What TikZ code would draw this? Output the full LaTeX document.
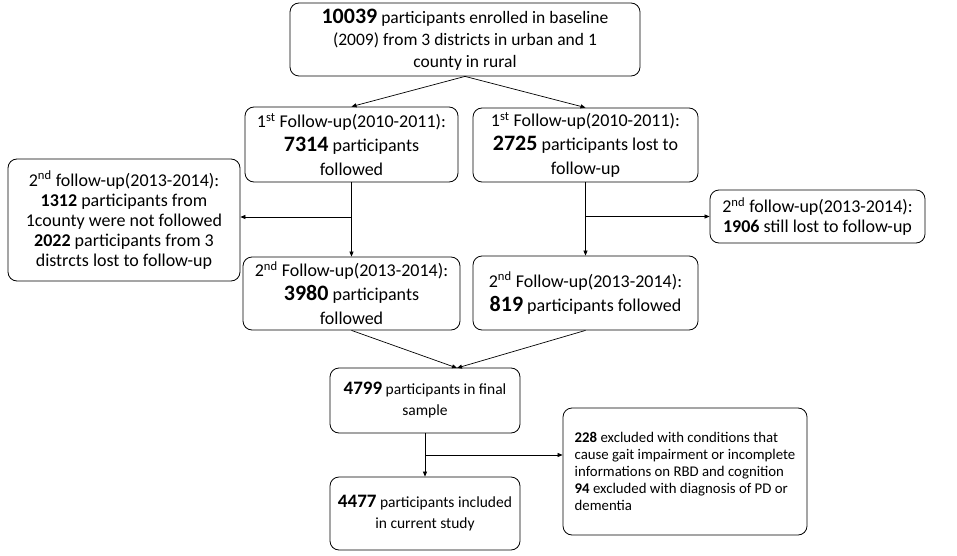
\documentclass[tikz,border=0pt]{standalone}
\usepackage{fontspec}
\setmainfont{Carlito}
\usetikzlibrary{arrows.meta}
\newcommand{\nb}[1]{{\fontsize{22}{22}\selectfont\bfseries #1}}
\newcommand{\nbs}[1]{{\fontsize{19}{19}\selectfont\bfseries #1}}
\begin{document}
\begin{tikzpicture}[x=1pt, y=-1pt,
  box/.style={draw, rounded corners=9pt, align=center, inner sep=0pt, line width=0.8pt, font=\fontsize{18}{24}\selectfont},
  arr/.style={-{Triangle[length=5pt,width=4pt]}, line width=0.7pt}]
  \useasboundingbox (0,0) rectangle (957,556);
  % boxes
  \node[box, minimum width=350, minimum height=73, font=\fontsize{17.5}{22}\selectfont] (base) at (465,39.5)
    {\nb{10039} participants enrolled in baseline\\(2009) from 3 districts in urban and 1\\county in rural};
  \node[box, minimum width=213, minimum height=75] (fuA) at (351.5,144.5)
    {1\textsuperscript{st} Follow-up(2010-2011):\\\nb{7314} participants\\followed};
  \node[box, minimum width=225, minimum height=74] (lostA) at (585.5,145)
    {1\textsuperscript{st} Follow-up(2010-2011):\\\nb{2725} participants lost to\\follow-up};
  \node[box, minimum width=232, minimum height=122, font=\fontsize{18}{20}\selectfont] (notfu) at (124,220)
    {2\textsuperscript{nd} follow-up(2013-2014):\\\textbf{1312} participants from\\1county were not followed\\\textbf{2022} participants from 3\\distrcts lost to follow-up};
  \node[box, minimum width=215, minimum height=53, font=\fontsize{18}{20}\selectfont] (lostB) at (817.5,216.5)
    {2\textsuperscript{nd} follow-up(2013-2014):\\\textbf{1906} still lost to follow-up};
  \node[box, minimum width=217, minimum height=73] (fuB) at (351.5,293.5)
    {2\textsuperscript{nd} Follow-up(2013-2014):\\\nb{3980} participants\\followed};
  \node[box, minimum width=225, minimum height=74] (fuC) at (585.5,293)
    {2\textsuperscript{nd} Follow-up(2013-2014):\\\nb{819} participants followed};
  \node[box, minimum width=190, minimum height=65, font=\fontsize{15.5}{21}\selectfont] (final) at (425,400.5)
    {\nbs{4799} participants in final\\sample};
  \node[box, minimum width=190, minimum height=73, font=\fontsize{15.5}{21}\selectfont] (incl) at (425,513.5)
    {\nbs{4477} participants included\\in current study};
  \node[box, minimum width=244, minimum height=127, align=left, font=\fontsize{14.8}{16.8}\selectfont] (excl) at (685,471.5)
    {\textbf{228} excluded with conditions that\\cause gait impairment or incomplete\\informations on RBD and cognition\\\textbf{94} excluded with diagnosis of PD or\\dementia};
  % junctions
  \coordinate (jA) at (351.5,217);
  \coordinate (jB) at (585.5,216.5);
  \coordinate (jC) at (425,455);
  \coordinate (mid) at (457,368);
  % connectors
  \draw[arr] (base.south) -- (fuA.north);
  \draw[arr] (base.south) -- (lostA.north);
  \draw[arr] (fuA.south) -- (fuB.north);
  \draw[arr] (jA) -- (jA -| notfu.east);
  \draw[arr] (lostA.south) -- (fuC.north);
  \draw[arr] (jB) -- (jB -| lostB.west);
  \draw[arr] (fuB.south) -- (mid);
  \draw[arr] (fuC.south) -- (mid);
  \draw[arr] (final.south) -- (incl.north);
  \draw[arr] (jC) -- (jC -| excl.west);
\end{tikzpicture}
\end{document}
